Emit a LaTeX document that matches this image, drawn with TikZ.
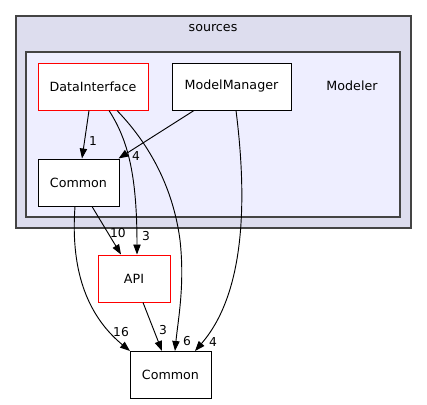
\documentclass[tikz,border=0pt]{standalone}
\usepackage{fontspec}
\setmainfont{DejaVu Sans}
\usetikzlibrary{arrows.meta}
\definecolor{outerfill}{HTML}{DDDDEE}
\definecolor{innerfill}{HTML}{EEEEFF}
\definecolor{clusterline}{HTML}{444444}
\tikzset{
  px/.style={x=0.75pt,y=-0.75pt},
  dirbox/.style={draw=black,fill=white,line width=0.75pt,minimum width=81*0.75pt,minimum height=47*0.75pt,inner sep=0pt,font=\fontsize{9.5}{11}\selectfont},
  redbox/.style={dirbox,draw=red},
  dep/.style={draw=black,line width=0.7pt,-{Triangle[length=7.5pt,width=5.5pt]}},
  lbl/.style={font=\fontsize{9.2}{10}\selectfont,inner sep=0pt},
  cluster/.style={draw=clusterline,line width=1.1pt},
}
\begin{document}
\begin{tikzpicture}[px]
\useasboundingbox (0,0) rectangle (427,404);
\draw[cluster,fill=outerfill] (16,16) rectangle (411,228);
\node[lbl,font=\fontsize{9.5}{11}\selectfont] (srclbl) at (213,28) {sources};
\draw[cluster,fill=innerfill] (26,52) rectangle (400,217);
\node[lbl,font=\fontsize{9.5}{11}\selectfont] (modlbl) at (352,86) {Modeler};

\node[redbox,minimum width=110*0.75pt] (di) at (93,86.5) {DataInterface};
\node[dirbox,minimum width=119*0.75pt] (mm) at (231.5,86.5) {ModelManager};
\node[dirbox] (ci) at (78.5,182.5) {Common};
\node[redbox,minimum width=72*0.75pt] (api) at (134,278.5) {API};
\node[dirbox] (cb) at (170.5,375) {Common};

% DataInterface -> Common (inner)
\draw[dep] ([xshift=-4*0.75pt]di.south) -- ([xshift=3.5*0.75pt]ci.north);
\node[lbl] (l1) at (93,141) {1};
% ModelManager -> Common (inner)
\draw[dep] ([xshift=-37.5*0.75pt]mm.south) -- ([xshift=-1*0.75pt]ci.north east);
\node[lbl] (l2) at (136,156) {4};
% DataInterface -> API
\draw[dep] ([xshift=16*0.75pt]di.south) .. controls (128,140) and (137,175) .. ([xshift=3*0.75pt]api.north);
\node[lbl] (l3) at (146,236) {3};
% DataInterface -> Common bottom
\draw[dep] ([xshift=24*0.75pt]di.south) .. controls (155,150) and (174,195) .. (180,240)
  .. controls (185,285) and (178,320) .. ([xshift=4.5*0.75pt]cb.north);
\node[lbl] (l4) at (187,341) {6};
% ModelManager -> Common bottom
\draw[dep] ([xshift=4.5*0.75pt]mm.south) .. controls (246,190) and (248,290) .. ([xshift=24.5*0.75pt]cb.north);
\node[lbl] (l5) at (213,342) {4};
% Common inner -> API
\draw[dep] ([xshift=13.5*0.75pt]ci.south) -- ([xshift=-13*0.75pt]api.north);
\node[lbl] (l6) at (118,233) {10};
% Common inner -> Common bottom
\draw[dep] ([xshift=-3.5*0.75pt]ci.south) .. controls (70,275) and (90,318) .. ([xshift=0.5*0.75pt]cb.north west);
\node[lbl] (l7) at (121,332) {16};
% API -> Common bottom
\draw[dep] ([xshift=9*0.75pt]api.south) -- ([xshift=-8.5*0.75pt]cb.north);
\node[lbl] (l8) at (163,330) {3};
\end{tikzpicture}
\end{document}
